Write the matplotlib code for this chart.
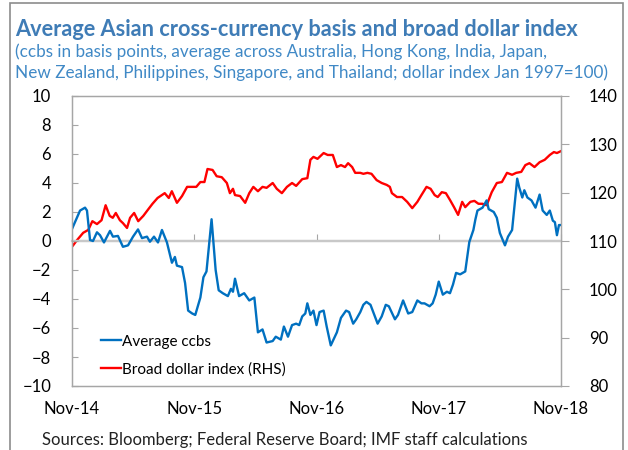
"""Average Asian cross-currency basis vs. broad dollar index (IMF-style chart)."""
import matplotlib

matplotlib.use("Agg")
import matplotlib.dates as mdates
import matplotlib.pyplot as plt
import numpy as np
import pandas as pd
from matplotlib.patches import Rectangle

START = pd.Timestamp("2014-11-01")
DAYS_PER_MONTH = 30.4375

# months since Nov-14, value in basis points (left axis)
ccbs_month = [
    0.0, 0.79, 1.28, 1.47, 1.77, 2.06, 2.45, 2.75, 3.14, 3.73, 4.02, 4.51, 5.0, 5.5,
    5.99, 6.48, 6.87, 7.36, 7.65, 8.05, 8.44, 8.83, 9.32, 9.81, 10.1, 10.3, 10.8, 11.1,
    11.4, 11.8, 12.1, 12.6, 12.9, 13.2, 13.7, 14.1, 14.4, 14.8, 15.3, 15.6, 15.8, 16.0,
    16.4, 16.9, 17.4, 17.9, 18.25, 18.7, 19.1, 19.7, 20.0, 20.5, 20.8, 21.2, 21.6, 22.0,
    22.3, 22.6, 22.9, 23.1, 23.4, 23.7, 24.0, 24.3, 24.7, 25.0, 25.4, 26.0, 26.4, 26.9,
    27.2, 27.6, 27.9, 28.3, 28.6, 28.9, 29.3, 30.0, 30.4, 30.8, 31.1, 31.7, 32.0, 32.5,
    33.0, 33.4, 33.9, 34.3, 34.6, 35.1, 35.4, 35.7, 36.0, 36.4, 36.8, 37.1, 37.4, 37.7,
    38.1, 38.6, 39.0, 39.4, 39.6, 39.8, 40.3, 40.7, 40.9, 41.4, 41.7, 42.0, 42.5, 42.8,
    43.2, 43.7, 43.9, 44.2, 44.4, 44.7, 45.1, 45.5, 45.9, 46.2, 46.6, 46.9, 47.2, 47.4,
    47.6, 47.8, 48.0,
]
ccbs_value = [
    0.83, 2.1, 2.3, 2.1, 0.07, 0.0, 0.6, 0.4, -0.1, 0.7, 0.3, 0.35, -0.4, -0.3,
    0.3, 0.8, 0.2, 0.3, -0.05, 0.3, -0.1, 0.76, -0.1, -1.5, -1.1, -1.7, -1.8, -2.9,
    -4.8, -5.0, -5.1, -3.9, -2.5, -2.1, 1.5, -2.0, -3.4, -3.6, -3.8, -3.3, -3.5, -2.6,
    -3.8, -3.6, -4.1, -3.9, -6.3, -6.1, -7.0, -6.9, -6.6, -6.8, -5.9, -6.6, -5.8, -5.7,
    -5.8, -5.2, -5.0, -4.3, -5.1, -4.8, -5.8, -4.9, -4.8, -5.9, -7.2, -6.3, -5.3, -4.8,
    -4.9, -5.7, -5.4, -4.9, -4.4, -4.2, -4.4, -5.7, -5.2, -4.4, -4.5, -5.4, -5.1, -4.1,
    -5.0, -4.9, -4.1, -4.3, -4.3, -4.5, -4.3, -3.7, -2.8, -3.7, -3.5, -3.6, -3.0, -2.2,
    -2.3, -2.1, -0.07, 0.76, 1.5, 2.1, 2.3, 2.8, 2.2, 2.0, 1.6, 0.55, -0.3, 0.3,
    0.76, 4.3, 3.7, 3.0, 3.5, 3.0, 2.8, 2.3, 3.2, 2.1, 1.8, 2.1, 1.4, 1.3,
    0.4, 1.1, 1.1,
]

# months since Nov-14, index Jan 1997=100 (right axis)
dollar_month = [
    0.0, 0.5, 1.1, 1.6, 2.0, 2.45, 2.9, 3.3, 3.7, 4.0, 4.3, 4.7, 5.0, 5.4, 5.7, 6.1,
    6.5, 7.0, 7.5, 7.9, 8.4, 9.1, 9.5, 9.8, 10.3, 10.8, 11.3, 11.8, 12.2, 12.6, 13.0,
    13.3, 13.8, 14.2, 14.7, 15.2, 15.5, 15.8, 16.0, 16.5, 17.0, 17.4, 17.8, 18.25, 18.7,
    19.1, 19.7, 20.1, 20.6, 21.1, 21.6, 22.0, 22.6, 23.1, 23.4, 23.7, 24.1, 24.7, 25.1,
    25.6, 26.0, 26.4, 26.8, 27.1, 27.5, 27.8, 28.3, 28.6, 29.0, 29.4, 29.9, 30.4, 30.9,
    31.2, 31.4, 31.9, 32.4, 32.9, 33.4, 33.9, 34.3, 34.8, 35.2, 35.6, 35.9, 36.3, 36.7,
    37.1, 37.5, 37.9, 38.3, 38.6, 39.1, 39.5, 39.9, 40.3, 40.7, 41.2, 41.7, 42.2, 42.7,
    43.2, 43.6, 44.1, 44.5, 44.9, 45.4, 45.9, 46.4, 46.9, 47.3, 47.6, 48.0,
]
dollar_value = [
    108.8, 110.2, 111.7, 112.3, 114.1, 113.5, 114.3, 117.4, 115.2, 114.8, 115.8, 114.3,
    113.7, 112.7, 114.8, 115.8, 114.1, 115.2, 116.6, 117.7, 118.9, 119.9, 118.9, 120.3,
    117.9, 119.3, 121.2, 121.2, 121.2, 122.2, 122.2, 124.9, 124.7, 123.4, 123.2, 122.0,
    119.9, 120.8, 119.5, 119.3, 117.9, 119.9, 121.2, 120.3, 121.2, 121.0, 122.0, 120.8,
    119.9, 121.2, 122.0, 121.4, 122.8, 123.0, 126.8, 127.4, 127.0, 128.2, 127.8, 127.8,
    125.3, 125.7, 125.3, 126.1, 125.3, 124.1, 124.1, 123.9, 124.1, 123.9, 122.6, 122.0,
    121.6, 121.2, 119.9, 119.1, 119.1, 118.1, 116.8, 118.1, 119.5, 121.2, 120.8, 119.5,
    119.1, 120.1, 119.9, 118.5, 117.0, 115.4, 118.1, 117.0, 118.1, 118.3, 117.7, 117.7,
    117.4, 120.1, 122.0, 122.2, 124.1, 123.7, 124.1, 124.3, 125.7, 126.1, 125.3, 126.3,
    126.8, 127.8, 128.4, 128.2, 128.6,
]

tick_years = [2014, 2015, 2016, 2017, 2018]

TITLE = "Average Asian cross-currency basis and broad dollar index"
SUBTITLE = (
    "(ccbs in basis points, average across Australia, Hong Kong, India, Japan,\n"
    "New Zealand, Philippines, Singapore, and Thailand; dollar index Jan 1997=100)"
)
SOURCE = "Sources: Bloomberg; Federal Reserve Board; IMF staff calculations"

BLUE = "#0070C0"
RED = "#FF0000"
GREY = "#A6A6A6"
ZERO_GREY = "#C8C8C8"


def to_dates(months):
    return START + pd.to_timedelta(np.asarray(months) * DAYS_PER_MONTH, unit="D")


plt.rcParams["font.family"] = ["Lato", "DejaVu Sans"]

fig = plt.figure(figsize=(6.28, 4.5), dpi=100)
ax = fig.add_axes([72 / 628, 1 - 386 / 450, 489 / 628, 290 / 450])
ax2 = ax.twinx()

ax.axhline(0, color=ZERO_GREY, lw=1.6, zorder=0)
ax2.plot(to_dates(dollar_month), dollar_value, color=RED, lw=1.7, label="Broad dollar index (RHS)")
ax.plot(to_dates(ccbs_month), ccbs_value, color=BLUE, lw=1.7, label="Average ccbs")
ax.set_zorder(ax2.get_zorder() + 1)
ax.patch.set_visible(False)

ax.set_xlim(START, pd.Timestamp("2018-11-01"))
ax.set_ylim(-10, 10)
ax2.set_ylim(80, 140)
ax.set_yticks(np.arange(-10, 11, 2))
ax2.set_yticks(np.arange(80, 141, 10))

ticks = [pd.Timestamp(f"{year}-11-01") for year in tick_years]
ax.set_xticks(ticks)
ax.xaxis.set_major_formatter(mdates.DateFormatter("%b-%y"))
ax.tick_params(axis="x", length=0, pad=11, labelsize=12)
ax.tick_params(axis="y", direction="in", length=4, color=GREY, pad=15, labelsize=12)
ax2.tick_params(axis="y", direction="out", length=6, color=GREY, pad=14, labelsize=12)

for axis in (ax, ax2):
    for spine in axis.spines.values():
        spine.set_color(GREY)
        spine.set_linewidth(0.9)

# yearly tick marks standing on the zero line
zero = ax.secondary_xaxis(0.5)
zero.set_xticks(mdates.date2num(ticks))
zero.set_xticklabels([])
zero.xaxis.set_ticks_position("bottom")
zero.tick_params(direction="in", length=5, color=GREY, labelbottom=False, labeltop=False)
for spine in zero.spines.values():
    spine.set_color(ZERO_GREY)
    spine.set_linewidth(1.6)

handles = ax.get_lines()[1:] + ax2.get_lines()
ax.legend(
    handles,
    [h.get_label() for h in handles],
    loc="lower left",
    bbox_to_anchor=(0.031, -0.015),
    frameon=False,
    fontsize=11,
    handlelength=1.3,
    handletextpad=0.05,
    labelspacing=0.9,
)

fig.text(15 / 628, 1 - 30 / 450, TITLE, color="#3F7CB6", fontsize=15.7, fontweight="bold", va="center")
fig.text(15 / 628, 1 - 62 / 450, SUBTITLE, color="#4089C6", fontsize=12.35, va="center", linespacing=1.3)
fig.text(42 / 628, 1 - 440 / 450, SOURCE, color="#222222", fontsize=12, va="center")

fig.add_artist(
    Rectangle((10 / 628, -0.05), 613 / 628, 1 - 3 / 450 + 0.05,
              transform=fig.transFigure, fill=False, edgecolor="#8C8C8C", lw=1.2)
)

fig.savefig("out.png", dpi=100)
